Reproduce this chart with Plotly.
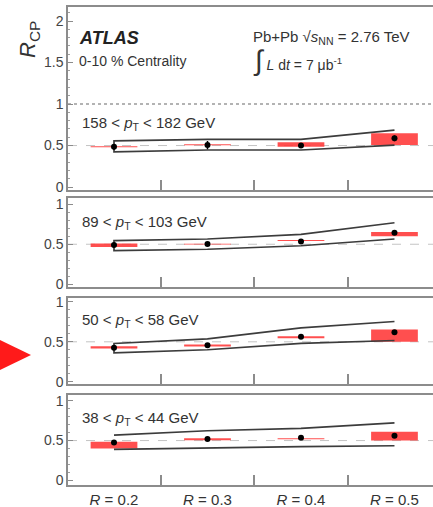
import plotly.graph_objects as go

# ---------------- data ----------------
R_VALUES = [0.2, 0.3, 0.4, 0.5]
R_LABELS = ["<i>R</i> = 0.2", "<i>R</i> = 0.3", "<i>R</i> = 0.4", "<i>R</i> = 0.5"]
PT_BINS = [
    "158 < <i>p</i><sub>T</sub> < 182 GeV",
    "89 < <i>p</i><sub>T</sub> < 103 GeV",
    "50 < <i>p</i><sub>T</sub> < 58 GeV",
    "38 < <i>p</i><sub>T</sub> < 44 GeV",
]

# 158 < pT < 182 GeV
rcp_158 = [0.485, 0.505, 0.500, 0.587]
stat_158 = [0.035, 0.050, 0.030, 0.035]
sys_lo_158 = [0.480, 0.502, 0.485, 0.506]
sys_hi_158 = [0.490, 0.514, 0.540, 0.647]
env_up_158 = [0.556, 0.574, 0.574, 0.685]
env_lo_158 = [0.425, 0.446, 0.446, 0.506]

# 89 < pT < 103 GeV
rcp_89 = [0.490, 0.502, 0.535, 0.645]
stat_89 = [0.015, 0.012, 0.012, 0.015]
sys_lo_89 = [0.465, 0.496, 0.540, 0.600]
sys_hi_89 = [0.510, 0.506, 0.552, 0.655]
env_up_89 = [0.545, 0.566, 0.625, 0.770]
env_lo_89 = [0.420, 0.437, 0.481, 0.566]

# 50 < pT < 58 GeV
rcp_50 = [0.425, 0.458, 0.562, 0.620]
stat_50 = [0.012, 0.012, 0.012, 0.015]
sys_lo_50 = [0.415, 0.440, 0.545, 0.500]
sys_hi_50 = [0.445, 0.465, 0.570, 0.654]
env_up_50 = [0.479, 0.537, 0.675, 0.755]
env_lo_50 = [0.362, 0.400, 0.480, 0.516]

# 38 < pT < 44 GeV
rcp_38 = [0.477, 0.519, 0.535, 0.560]
stat_38 = [0.012, 0.012, 0.012, 0.012]
sys_lo_38 = [0.400, 0.505, 0.515, 0.500]
sys_hi_38 = [0.485, 0.530, 0.528, 0.610]
env_up_38 = [0.569, 0.623, 0.652, 0.722]
env_lo_38 = [0.390, 0.410, 0.423, 0.435]

panels = [
    (rcp_158, stat_158, sys_lo_158, sys_hi_158, env_up_158, env_lo_158),
    (rcp_89, stat_89, sys_lo_89, sys_hi_89, env_up_89, env_lo_89),
    (rcp_50, stat_50, sys_lo_50, sys_hi_50, env_up_50, env_lo_50),
    (rcp_38, stat_38, sys_lo_38, sys_hi_38, env_up_38, env_lo_38),
]

# ---------------- layout / style ----------------
W, H = 433, 507
ML, MR, MT, MB = 68, 0, 7, 22
PW, PH = W - ML - MR, H - MT - MB
FONT = "Liberation Sans, Arial, sans-serif"
TXT = "#333333"
FRAME = "#8c8c8c"
X_RANGE = [0.1508, 0.5412]
BOX_W = 0.05

# panel pixel extents (top, bottom) in image coords
panel_px = [(7, 190), (198, 286.5), (298, 384), (395, 485)]
y_ranges = [[-0.036, 2.17], [-0.03, 1.08], [-0.03, 1.05], [-0.056, 1.07]]
closed_left = [True, True, True, False]

def py(p):
    return (H - MB - p) / PH

def px(p):
    return (p - ML) / PW

fig = go.Figure()
layout = dict(
    width=W, height=H,
    margin=dict(l=ML, r=MR, t=MT, b=MB),
    paper_bgcolor="white", plot_bgcolor="white",
    showlegend=False, barmode="overlay",
    font=dict(family=FONT, color=TXT, size=14),
)
shapes = []
annotations = []

for i, (vals, stat, slo, shi, eup, elo) in enumerate(panels):
    n = i + 1
    xa = "x" if n == 1 else f"x{n}"
    ya = "y" if n == 1 else f"y{n}"
    xkey = "xaxis" if n == 1 else f"xaxis{n}"
    ykey = "yaxis" if n == 1 else f"yaxis{n}"
    top, bot = panel_px[i]
    last = (n == 4)

    xdict = dict(
        domain=[0, 1], anchor=ya, range=X_RANGE,
        showline=True, linecolor=FRAME, linewidth=1.5, mirror=True,
        showgrid=False, zeroline=False,
        tickvals=R_VALUES, ticks="",
        minor=dict(tickvals=[0.25, 0.35, 0.45], ticks="inside", ticklen=10,
                   tickcolor=FRAME, tickwidth=1.5, showgrid=False),
    )
    if last:
        xdict.update(ticktext=R_LABELS, showticklabels=True,
                     tickfont=dict(size=15, color=TXT, family=FONT))
    else:
        xdict.update(showticklabels=False)
    layout[xkey] = xdict

    if n == 1:
        yt = [0, 0.5, 1, 1.5, 2]
        ytt = ["0", "0.5", "1", "1.5", "2"]
    else:
        yt = [0, 0.5, 1]
        ytt = ["0", "0.5", "1"]
    layout[ykey] = dict(
        domain=[py(bot), py(top)], anchor=xa, range=y_ranges[i],
        showline=True, linecolor=FRAME, linewidth=1.5, mirror=False,
        showgrid=False, zeroline=False,
        tickvals=yt, ticktext=ytt, ticks="inside", ticklen=5,
        tickcolor=FRAME, tickwidth=1.2,
        tickfont=dict(size=14, color="#444444", family=FONT),
        minor=dict(dtick=0.1, ticks="inside", ticklen=2.5, tickcolor="#a0a0a0",
                   tickwidth=1, showgrid=False),
    )

    # reference line at 0.5
    shapes.append(dict(type="line", xref=f"{xa} domain", yref=ya,
                       x0=0, x1=1, y0=0.5, y1=0.5,
                       line=dict(color="#c4c4c4", width=1, dash="dash"), layer="below"))
    if n == 1:
        shapes.append(dict(type="line", xref=f"{xa} domain", yref=ya,
                           x0=0, x1=1, y0=1, y1=1,
                           line=dict(color="#9a9a9a", width=1.6, dash="dot"), layer="below"))

    # systematic boxes
    fig.add_trace(go.Bar(
        x=R_VALUES, y=[h - l for h, l in zip(shi, slo)], base=slo,
        width=BOX_W, marker=dict(color="rgba(255,55,55,0.88)", line=dict(width=0)),
        xaxis=xa, yaxis=ya, hoverinfo="skip",
    ))

    # correlated uncertainty envelope
    if closed_left[i]:
        ex = R_VALUES[::-1] + R_VALUES
        ey = eup[::-1] + elo
        fig.add_trace(go.Scatter(x=ex, y=ey, mode="lines",
                                 line=dict(color="#3c3c3c", width=1.7),
                                 xaxis=xa, yaxis=ya, hoverinfo="skip"))
    else:
        for env in (eup, elo):
            fig.add_trace(go.Scatter(x=R_VALUES, y=env, mode="lines",
                                     line=dict(color="#3c3c3c", width=1.7),
                                     xaxis=xa, yaxis=ya, hoverinfo="skip"))

    # data points
    fig.add_trace(go.Scatter(
        x=R_VALUES, y=vals, mode="markers",
        marker=dict(color="black", size=6),
        error_y=dict(type="data", array=stat, color="black", thickness=1.5, width=0),
        xaxis=xa, yaxis=ya,
    ))

    # pT bin label
    annotations.append(dict(
        x=0.1636, y=0.77 if n > 1 else 0.76, xref=xa, yref=ya,
        text=PT_BINS[i], showarrow=False, xanchor="left", yanchor="middle",
        font=dict(size=15, color=TXT, family=FONT),
    ))

# top panel texts
annotations += [
    dict(x=0.1604, y=1.80, xref="x", yref="y", text="<b><i>ATLAS</i></b>",
         showarrow=False, xanchor="left", yanchor="middle",
         font=dict(size=18, color="#222222", family=FONT)),
    dict(x=0.1604, y=1.52, xref="x", yref="y", text="0-10 % Centrality",
         showarrow=False, xanchor="left", yanchor="middle",
         font=dict(size=14, color=TXT, family=FONT)),
    dict(x=0.3465, y=1.80, xref="x", yref="y",
         text="Pb+Pb √<i>s</i><sub>NN</sub> = 2.76 TeV",
         showarrow=False, xanchor="left", yanchor="middle",
         font=dict(size=15, color=TXT, family=FONT)),
    dict(x=0.3465, y=1.52, xref="x", yref="y",
         text="<span style='font-size:28px'>∫</span> <i>L</i> d<i>t</i> = 7 μb<sup>-1</sup>",
         showarrow=False, xanchor="left", yanchor="middle",
         font=dict(size=14, color=TXT, family=FONT)),
    dict(x=px(29), y=py(40), xref="paper", yref="paper",
         text="<i>R</i><sub>CP</sub>", textangle=-90,
         showarrow=False, xanchor="center", yanchor="middle",
         font=dict(size=22, color=TXT, family=FONT)),
]

# red pointer triangle on the left
shapes.append(dict(
    type="path", xref="paper", yref="paper",
    path=f"M {px(-4)} {py(338)} L {px(31)} {py(355)} L {px(-4)} {py(372)} Z",
    fillcolor="#ff1a1a", line=dict(width=0), layer="above",
))

layout["shapes"] = shapes
layout["annotations"] = annotations
fig.update_layout(**layout)
fig.write_html(
    "out.html",
    config={"displayModeBar": False},
    post_script="document.body.style.margin='0';document.body.style.overflow='hidden';",
)
